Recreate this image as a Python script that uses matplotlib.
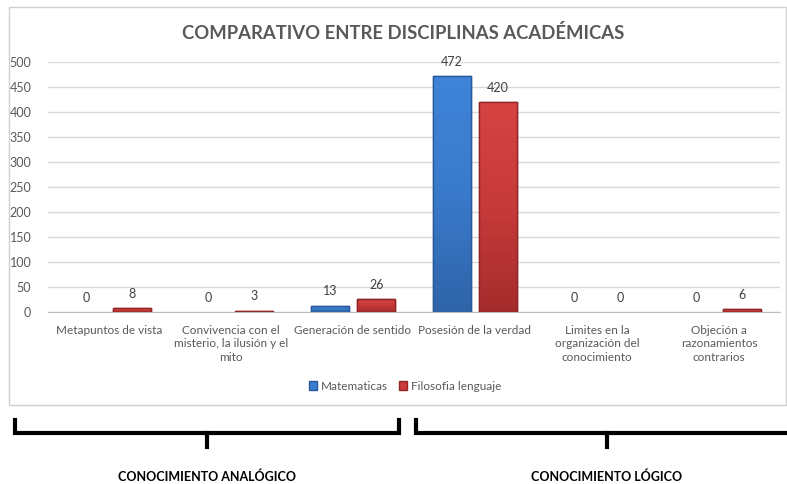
import matplotlib
matplotlib.use("Agg")
import matplotlib.pyplot as plt
from matplotlib.patches import Rectangle, Patch
from matplotlib.lines import Line2D
from matplotlib.colors import LinearSegmentedColormap
import numpy as np

categories = ["Metapuntos de vista",
              "Convivencia con el\nmisterio, la ilusión y el\nmito",
              "Generación de sentido",
              "Posesión de la verdad",
              "Limites en la\norganización del\nconocimiento",
              "Objeción a\nrazonamientos\ncontrarios"]
matematicas = [0, 0, 13, 472, 0, 0]
filosofia = [8, 3, 26, 420, 0, 6]
series_names = ["Matematicas", "Filosofia lenguaje"]
yticks = [0, 50, 100, 150, 200, 250, 300, 350, 400, 450, 500]
groups = ["CONOCIMIENTO ANALÓGICO", "CONOCIMIENTO LÓGICO"]

FONT = ['Lato', 'DejaVu Sans']
plt.rcParams['font.family'] = FONT

fig = plt.figure(figsize=(7.87, 4.84), dpi=100)
W, H = 787, 484

# chart frame
fig.patches.append(Rectangle((9/W, 1-405/H), (786-9)/W, (405-7)/H, transform=fig.transFigure,
                             fill=False, edgecolor='#d0d0d0', linewidth=1))

ax = fig.add_axes([48/W, 1-312/H, (780-48)/W, (312-62)/H])
x = np.arange(len(categories))
w = 0.31
off = 0.19
blue, blue_e = '#3b7dd0', '#2a5a9a'
red, red_e = '#cc3b3b', '#8f2525'
cm_blue = LinearSegmentedColormap.from_list('b', ['#2f64a8', '#3a7acb', '#3f84d8'])
cm_red = LinearSegmentedColormap.from_list('r', ['#a52c2c', '#c73a3a', '#d64343'])
b1 = ax.bar(x-off, matematicas, w, color=blue, edgecolor=blue_e, linewidth=1, zorder=3)
b2 = ax.bar(x+off, filosofia, w, color=red, edgecolor=red_e, linewidth=1, zorder=3)
grad = np.linspace(0, 1, 256).reshape(-1, 1)
for bars, vals, cm in ((b1, matematicas, cm_blue), (b2, filosofia, cm_red)):
    for r, v in zip(bars, vals):
        if v == 0:
            r.set_visible(False)
        else:
            im = ax.imshow(grad, extent=[r.get_x(), r.get_x()+r.get_width(), 0, v], origin='lower',
                           aspect='auto', cmap=cm, zorder=3.2)
            im.set_clip_path(r)
            ax.add_patch(Rectangle((r.get_x(), 0), r.get_width(), v, fill=False,
                                   edgecolor=r.get_edgecolor(), linewidth=1, zorder=3.4))
        ax.annotate(str(v), (r.get_x()+r.get_width()/2, v), xytext=(0, 6), textcoords='offset points',
                    ha='center', va='bottom', fontsize=9, color='#404040')

ax.set_xlim(-0.5, len(categories)-0.5)
ax.set_ylim(0, 500)
ax.set_yticks(yticks)
ax.set_yticklabels([str(t) for t in yticks], fontsize=9, color='#595959')
ax.set_xticks(x)
ax.set_xticklabels(categories, fontsize=8.5, color='#595959', linespacing=1.3, va='top')
ax.tick_params(axis='both', length=0)
ax.tick_params(axis='x', pad=9)
ax.tick_params(axis='y', pad=12)
ax.grid(axis='y', color='#d9d9d9', linewidth=1, zorder=0)
for s in ['top', 'right', 'left']:
    ax.spines[s].set_visible(False)
ax.spines['bottom'].set_color('#bfbfbf')
ax.set_facecolor('none')

fig.text(403/W, 1-33/H, "COMPARATIVO ENTRE DISCIPLINAS ACADÉMICAS", ha='center', va='center',
         fontsize=13.3, fontweight='bold', color='#595959')

handles = [Patch(facecolor=blue, edgecolor=blue_e), Patch(facecolor=red, edgecolor=red_e)]
leg = fig.legend(handles=handles, labels=series_names, loc='center', bbox_to_anchor=(405/W, 1-386/H),
                 ncol=2, frameon=False, fontsize=8.5, handlelength=0.7, handleheight=0.7,
                 handletextpad=0.3, columnspacing=1.0)
for t in leg.get_texts():
    t.set_color('#595959')

# brackets
def bracket(x0, x1, xc):
    y = 1-433/H
    fig.lines.append(Line2D([x0/W, x0/W, x1/W, x1/W], [1-420/H, y, y, 1-420/H], transform=fig.transFigure,
                            color='black', linewidth=3, solid_joinstyle='miter'))
    fig.lines.append(Line2D([xc/W, xc/W], [y, 1-447/H], transform=fig.transFigure, color='black', linewidth=3))

bracket(15, 399, 207)
bracket(416, 800, 607)
fig.text(207/W, 1-477/H, groups[0], ha='center', va='center', fontsize=9, fontweight='bold', color='black')
fig.text(607/W, 1-477/H, groups[1], ha='center', va='center', fontsize=9, fontweight='bold', color='black')

fig.savefig("out.png", dpi=100)
